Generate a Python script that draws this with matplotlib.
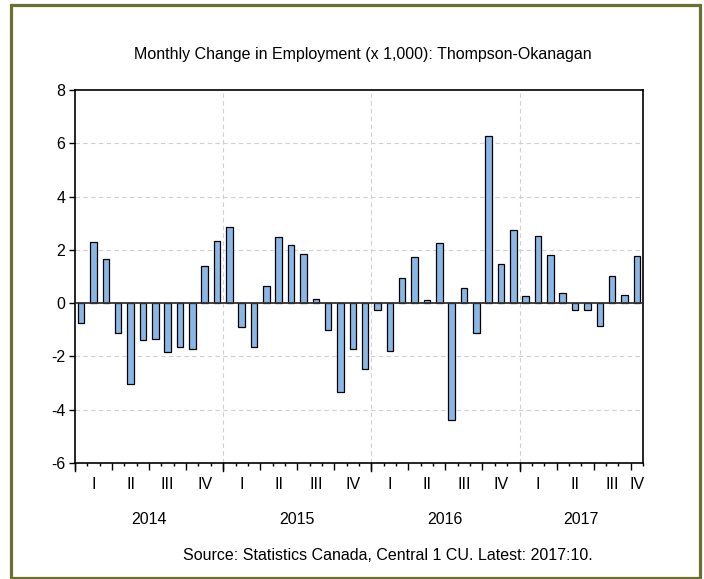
import matplotlib
matplotlib.use("Agg")
import matplotlib.pyplot as plt
from matplotlib.patches import Rectangle

plt.rcParams['font.family'] = ['Liberation Sans', 'DejaVu Sans']

# Monthly change in employment (x 1,000), Jan 2014 - Oct 2017
changes = [
    -0.74, 2.29, 1.66, -1.11, -3.05, -1.38, -1.34, -1.83, -1.63, -1.71, 1.41, 2.35,
    2.86, -0.90, -1.64, 0.64, 2.48, 2.19, 1.85, 0.15, -0.99, -3.34, -1.73, -2.49,
    -0.27, -1.81, 0.95, 1.73, 0.13, 2.26, -4.38, 0.58, -1.11, 6.29, 1.46, 2.75,
    0.26, 2.51, 1.80, 0.39, -0.25, -0.24, -0.86, 1.03, 0.31, 1.78,
]
years = ["2014", "2015", "2016", "2017"]
quarters = ["I", "II", "III", "IV"]
yticks = [-6, -4, -2, 0, 2, 4, 6, 8]

n = len(changes)
x = list(range(n))
fs = 11.5

fig = plt.figure(figsize=(7.04, 5.79), dpi=100)
ax = fig.add_axes([75 / 704, 1 - 463 / 579, 568 / 704, 373 / 579])

# gridlines
for v in yticks:
    if v not in (0, -6, 8):
        ax.axhline(v, color='#d0d0d0', linestyle=(0, (4, 3)), linewidth=0.8, zorder=0)
for i in range(1, len(years)):
    ax.axvline(i * 12 - 0.5, color='#d0d0d0', linestyle=(0, (4, 3)), linewidth=0.8, zorder=0)

ax.bar(x, changes, width=0.53, color='#8ab8e6', edgecolor='black', linewidth=0.9, zorder=2)
ax.axhline(0, color='#333333', linewidth=1.3, zorder=3)

ax.set_xlim(-0.5, n - 0.5)
ax.set_ylim(-6, 8)
ax.set_yticks(yticks)
ax.set_yticklabels([str(v) for v in yticks], fontsize=fs)
ax.tick_params(axis='y', direction='out', length=4, width=1, pad=3)

# month ticks, longer at quarters and years
month_ticks = [k - 0.5 for k in range(n + 1)]
ax.set_xticks(month_ticks, minor=True)
ax.set_xticks([k - 0.5 for k in range(0, n + 1, 3)])
ax.set_xticklabels([])
ax.tick_params(axis='x', which='minor', direction='out', length=2.5, width=1)
ax.tick_params(axis='x', which='major', direction='out', length=5, width=1)
for k in range(0, n + 1, 12):
    ax.plot([k - 0.5, k - 0.5], [0, -0.022], transform=ax.get_xaxis_transform(),
            color='black', linewidth=1, clip_on=False)

for s in ax.spines.values():
    s.set_linewidth(1.2)

trans = ax.get_xaxis_transform()
for q in range(0, n, 3):
    last = min(q + 3, n)
    ax.text((q + last - 1) / 2, -0.058, quarters[(q // 3) % 4], transform=trans,
            ha='center', va='center', fontsize=fs)
for yi, yr in enumerate(years):
    first = yi * 12
    last = min(first + 12, n)
    ax.text((first + last - 1) / 2, -0.152, yr, transform=trans,
            ha='center', va='center', fontsize=fs)

fig.text(0.515, 1 - 55 / 579, "Monthly Change in Employment (x 1,000): Thompson-Okanagan",
         ha='center', va='center', fontsize=fs)
fig.text(0.551, 1 - 555 / 579, "Source: Statistics Canada, Central 1 CU. Latest: 2017:10.",
         ha='center', va='center', fontsize=fs)

fig.patches.append(Rectangle((10.5 / 704, 1.5 / 579), 689.5 / 704, 573 / 579,
                             transform=fig.transFigure, fill=False,
                             edgecolor='#6b7030', linewidth=2.3))

fig.savefig("out.png", dpi=100)
